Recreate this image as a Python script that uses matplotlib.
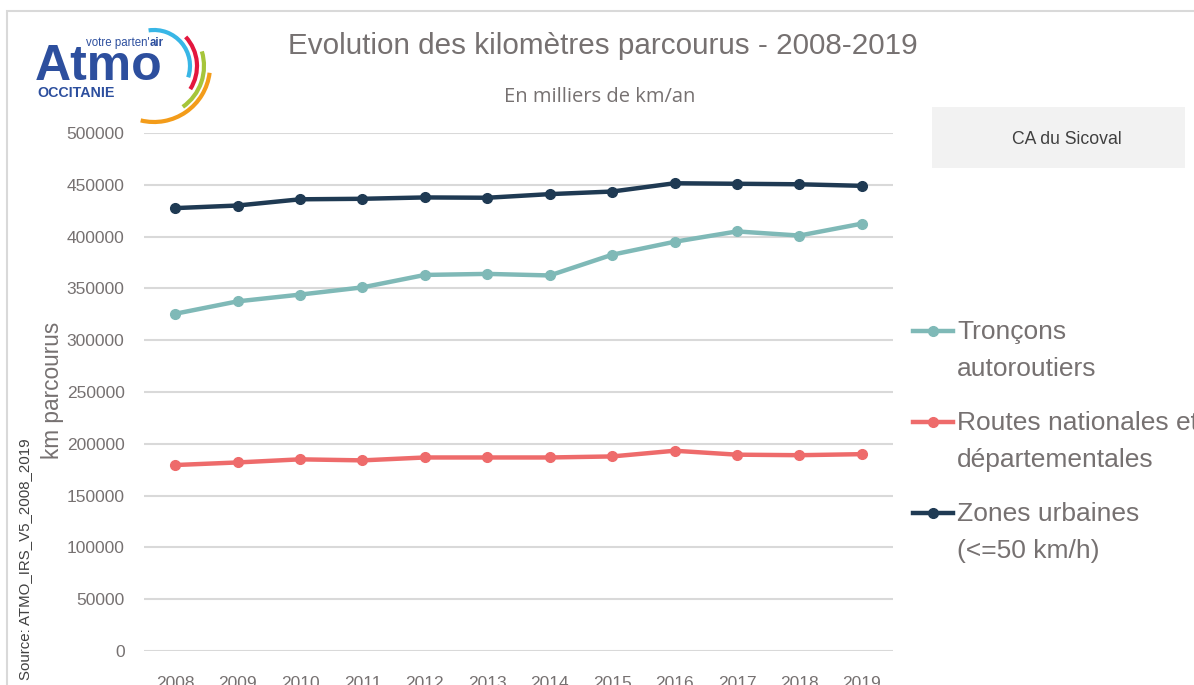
import numpy as np
import matplotlib.pyplot as plt
from matplotlib.patches import Rectangle, Arc
from matplotlib.lines import Line2D

# Data (milliers de km/an)
years = [2008, 2009, 2010, 2011, 2012, 2013, 2014, 2015, 2016, 2017, 2018, 2019]
autoroutes = [325500, 337500, 344000, 351000, 363000, 364000, 362500, 382500, 395000, 405000, 401000, 412500]
routes = [179500, 182000, 185000, 184000, 186800, 186800, 186800, 187800, 193300, 189500, 189000, 190000]
urbaines = [427500, 430000, 436000, 436500, 437800, 437500, 441000, 443500, 451500, 451000, 450500, 449000]

labels = ["Tronçons\nautoroutiers", "Routes nationales et\ndépartementales", "Zones urbaines\n(<=50 km/h)"]
colors = ["#7fb9b7", "#ee6b6b", "#1f3a53"]
yticks = np.arange(0, 500001, 50000)

W, H = 1194, 685
text_grey = "#767171"
plt.rcParams['font.family'] = ['Liberation Sans', 'DejaVu Sans']

fig = plt.figure(figsize=(W / 100, H / 100), dpi=100)


def px(x, y):
    # pixel position (top-left origin) -> figure fraction
    return x / W, 1 - y / H


# outer frame
fig.add_artist(Rectangle(px(7, 700), (W + 20) / W, 689 / H, transform=fig.transFigure,
                         fill=False, edgecolor="#d9d9d9", linewidth=1.5))

left, top = px(144, 133)
right, bottom = px(893, 651)
ax = fig.add_axes([left, bottom, right - left, top - bottom])

for vals, lab, col in zip([autoroutes, routes, urbaines], labels, colors):
    ax.plot(years, vals, color=col, linewidth=3.2, marker='o', markersize=7, label=lab,
            solid_capstyle='round', clip_on=False)

ax.set_xlim(2007.5, 2019.5)
ax.set_ylim(0, 500000)
ax.set_yticks(yticks)
ax.set_yticklabels([str(v) for v in yticks])
ax.set_xticks(years)
ax.grid(axis='y', color="#d9d9d9", linewidth=1.5)
ax.set_axisbelow(True)
for s in ax.spines.values():
    s.set_visible(False)
ax.tick_params(axis='y', length=0, pad=14, labelsize=12.5, labelcolor=text_grey)
ax.tick_params(axis='x', length=0, pad=18, labelsize=12.5, labelcolor=text_grey)

# titles
fig.text(*px(603, 46), "Evolution des kilomètres parcourus - 2008-2019", ha='center', va='center',
         fontsize=21.3, color=text_grey)
fig.text(*px(600, 97), "En milliers de km/an", ha='center', va='center', fontsize=14.5,
         color=text_grey, family=['Open Sans', 'DejaVu Sans'])

# axis label and source
fig.text(*px(53, 390), "km parcourus", rotation=90, ha='center', va='center', fontsize=16.3,
         color=text_grey)
fig.text(*px(25, 680), "Source: ATMO_IRS_V5_2008_2019", rotation=90, ha='center', va='bottom',
         fontsize=10.8, color="#404040")

# territory box
fig.add_artist(Rectangle(px(932, 168), (1185 - 932) / W, (168 - 107) / H, transform=fig.transFigure,
                         facecolor="#f2f2f2", edgecolor='none'))
fig.text(*px(1067, 139), "CA du Sicoval", ha='center', va='center', fontsize=12.7, color="#404040")

# legend, handle level with the first line of each label
for i, line in enumerate(ax.get_lines()):
    y0 = 331 + i * 91
    x0, yy = px(913, y0)
    x1, _ = px(953, y0)
    fig.add_artist(Line2D([x0, x1], [yy, yy], color=line.get_color(), linewidth=3.2,
                          transform=fig.transFigure))
    fig.add_artist(Line2D([(x0 + x1) / 2], [yy], color=line.get_color(), marker='o', markersize=7,
                          transform=fig.transFigure))
    fig.text(*px(957, y0 - 11), line.get_label(), ha='left', va='top', fontsize=19,
             color=text_grey, linespacing=1.7)

# logo
blue = "#2d4f9e"
fig.text(*px(35, 80), "Atmo", fontsize=36, fontweight='bold', color=blue, ha='left', va='baseline')
fig.text(*px(150, 46), "votre parten'", fontsize=8.3, color=blue, ha='right', va='baseline')
fig.text(*px(150, 46), "air", fontsize=8.3, fontweight='bold', color=blue, ha='left', va='baseline')
fig.text(*px(37, 97), "OCCITANIE", fontsize=10.3, fontweight='bold', color=blue, ha='left', va='baseline')
arcs = [(36, -30, 95, "#38b6e6"), (43, -48, 58, "#e3173e"), (50, -68, 28, "#a6c53a"),
        (56, -98, -12, "#f39c1a")]
cx, cy = px(154, 66)
for r, t1, t2, c in arcs:
    fig.add_artist(Arc((cx, cy), 2 * r / W, 2 * r / H, theta1=t1, theta2=t2, color=c,
                       linewidth=3, transform=fig.transFigure))

fig.savefig("out.png", dpi=100)
